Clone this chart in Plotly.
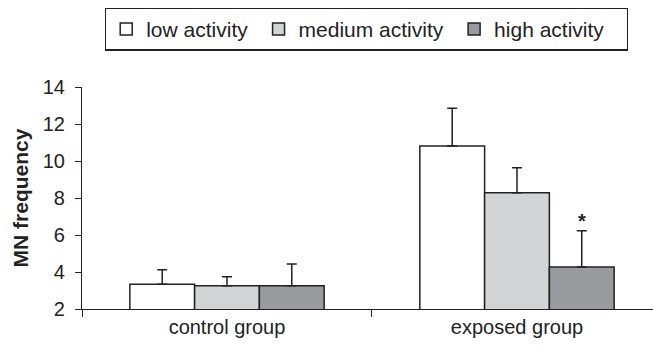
import plotly.graph_objects as go

categories = ["control group", "exposed group"]
series_names = ["low activity", "medium activity", "high activity"]
low_vals = [3.34, 10.81]
low_err = [0.78, 2.04]
med_vals = [3.26, 8.29]
med_err = [0.49, 1.35]
high_vals = [3.26, 4.27]
high_err = [1.17, 1.96]
y_ticks = [2, 4, 6, 8, 10, 12, 14]

colors = ["#ffffff", "#d3d4d6", "#9a9b9e"]
edge = "#222222"
FONT = "Liberation Sans, Arial, Helvetica, sans-serif"
NBSP = "\u00a0"
legend_pad = [1, 1, 3]  # trailing spacing after each legend label

fig = go.Figure()
for name, vals, errs, col, pad in zip(series_names, [low_vals, med_vals, high_vals],
                                      [low_err, med_err, high_err], colors, legend_pad):
    fig.add_trace(go.Bar(
        x=categories, y=vals, name=name + NBSP * pad,
        marker=dict(color=col, line=dict(color=edge, width=1.5)),
        error_y=dict(type="data", array=errs, symmetric=False, arrayminus=[0, 0],
                     color=edge, thickness=1.5, width=5),
    ))

bargap = 0.33
bar_w = (1 - bargap) / 3
fig.add_annotation(
    x=1 + bar_w, y=high_vals[1] + high_err[1], text="<b>*</b>",
    showarrow=False, yanchor="bottom", yshift=-3,
    font=dict(size=20, color=edge, family=FONT),
)

fig.update_layout(
    width=653, height=348,
    margin=dict(l=82, r=0, t=87, b=39, autoexpand=False),
    paper_bgcolor="white", plot_bgcolor="white",
    barmode="group", bargap=bargap, bargroupgap=0,
    font=dict(family=FONT, color=edge, size=20),
    showlegend=True,
    legend=dict(
        orientation="h", xref="container", yref="container",
        x=105 / 653, xanchor="left", y=0.978, yanchor="top",
        bordercolor=edge, borderwidth=1.2, font=dict(size=21, family=FONT),
        itemwidth=30, tracegroupgap=0,
    ),
    xaxis=dict(
        type="category", range=[-0.5, 1.469], showline=True, linecolor=edge, linewidth=1.2,
        ticks="outside", tickson="boundaries", ticklen=7, tickcolor=edge, tickwidth=1.2,
        tickfont=dict(size=20), showgrid=False, zeroline=False, automargin=False,
    ),
    yaxis=dict(
        range=[2, 14], tickvals=y_ticks, showline=True, linecolor=edge, linewidth=1.2,
        ticks="outside", ticklen=6, tickcolor=edge, tickwidth=1.2, ticklabelstandoff=6,
        tickfont=dict(size=20), showgrid=False, zeroline=False, automargin=False,
        title=dict(text="<b>MN frequency</b>", font=dict(size=21), standoff=8),
    ),
)

fig.write_html(
    "out.html",
    config={"displayModeBar": False},
    post_script="document.body.style.margin='0';document.body.style.padding='0';window.dispatchEvent(new Event('resize'));",
)
